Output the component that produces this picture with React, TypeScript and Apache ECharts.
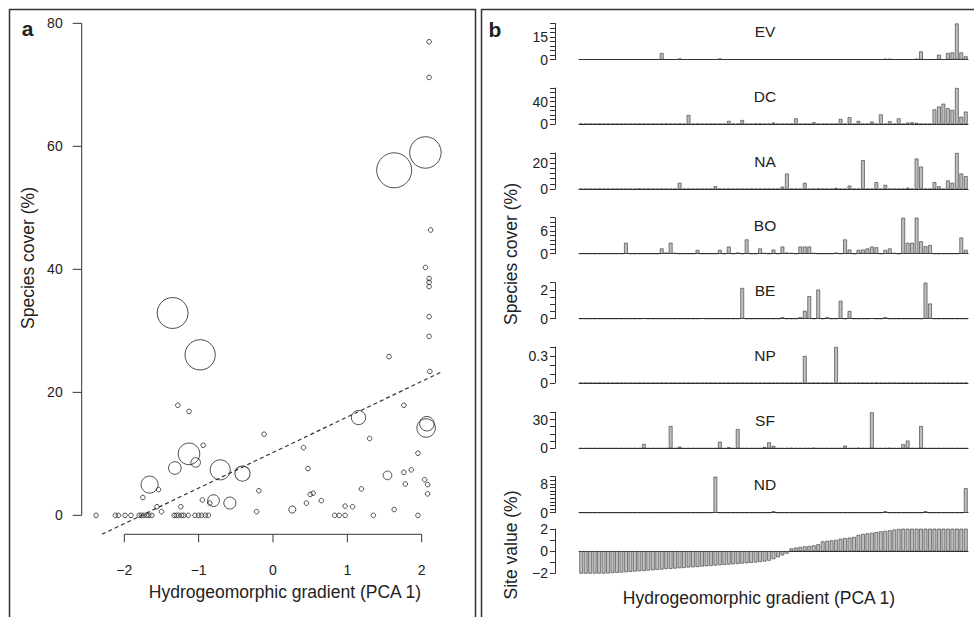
import React, { useEffect, useRef } from "react";
import * as echarts from "echarts";

const FONT = "'Liberation Sans', Arial, Helvetica, sans-serif";
const INK = "#222";
const LINE = "#333";

// ---------- Panel a : species cover vs hydrogeomorphic gradient ----------
const pointX = [
  2.10, 2.10, 1.63, 2.05, 2.12, 2.05, 2.10, 2.10, 2.10, -1.35,
  -0.98, 2.10, 2.10, 1.56, 2.11, -1.28, -1.13, 1.76, 1.15, 2.07,
  2.06, -0.12, 1.30, 0.41, -0.94, -1.13, -1.04, -1.32, -0.71, -0.41,
  0.47, 1.95, 1.76, 1.86, 1.54, 2.04, 2.08, 1.78, 2.08, -1.66,
  -1.54, -0.19, 1.19, 0.54, 0.50, -1.75, -0.95, -0.80, -0.58, 0.65,
  0.45, -1.56, -1.24, 0.97, 1.07, 0.26, 1.63, -0.22, -1.50, -0.85,
  -2.38, -2.12, -2.08, -1.99, -1.91, -1.80, -1.77, -1.74, -1.70, -1.67,
  -1.63, -1.33, -1.30, -1.27, -1.23, -1.20, -1.14, -1.05, -1.00, -0.96,
  -0.91, -0.87, 0.83, 0.89, 0.97, 1.35, 1.95,
];
const pointY = [
  77.0, 71.2, 56.1, 59.0, 46.4, 40.3, 38.5, 37.9, 37.2, 32.9,
  26.1, 32.3, 29.1, 25.8, 23.4, 17.9, 16.9, 17.9, 15.9, 14.9,
  14.2, 13.2, 12.5, 11.0, 11.4, 10.0, 8.6, 7.7, 7.4, 6.8,
  7.6, 10.1, 7.0, 7.4, 6.5, 5.8, 5.0, 5.1, 3.5, 5.0,
  4.2, 4.0, 4.3, 3.6, 3.4, 2.9, 2.5, 2.4, 2.0, 2.4,
  2.0, 1.4, 1.4, 1.5, 1.4, 0.95, 0.95, 0.6, 0.6, 2.0,
  0, 0, 0, 0, 0, 0, 0, 0, 0, 0,
  0, 0, 0, 0, 0, 0, 0, 0, 0, 0,
  0, 0, 0, 0, 0, 0, 0,
];
// relative bubble value (0 = smallest symbol)
const pointSize = [
  0, 0, 9.8, 8.7, 0, 0, 0, 0, 0, 8.5,
  8.3, 0, 0, 0, 0, 0, 0, 0, 3.1, 3.2,
  4.5, 0, 0, 0, 0, 5.5, 1.6, 2.6, 5.0, 3.4,
  0, 0, 0, 0, 1.3, 0, 0, 0, 0, 4.0,
  0, 0, 0, 0, 0, 0, 0, 2.3, 2.4, 0,
  0, 0, 0, 0, 0, 0.8, 0, 0, 0, 0,
  0, 0, 0, 0, 0, 0, 0, 0, 0, 0,
  0, 0, 0, 0, 0, 0, 0, 0, 0, 0,
  0, 0, 0, 0, 0, 0, 0,
];
const trendX = [-2.3, 2.28];
const trendY = [-3.08, 23.4];
const aXTicks = [-2, -1, 0, 1, 2];
const aYTicks = [0, 20, 40, 60, 80];

// ---------- Panel b : species cover per site, sites ordered by PCA 1 ----------
const siteValue = [
  -2.46,
  -2.16, -2.12, -2.10, -2.07, -2.05, -2.01, -1.98, -1.95, -1.93, -1.90,
  -1.87, -1.84, -1.81, -1.79, -1.75, -1.72, -1.69, -1.66, -1.62, -1.60,
  -1.57, -1.54, -1.51, -1.47, -1.45, -1.42, -1.39, -1.36, -1.33, -1.30,
  -1.27, -1.24, -1.21, -1.18, -1.15, -1.12, -1.09, -1.06, -1.02, -0.98,
  -0.93, -0.86, -0.72, -0.55, -0.38, -0.22,
  0.25, 0.32, 0.38, 0.43, 0.47, 0.52, 0.62,
  0.88, 0.93, 0.97, 1.02,
  1.12, 1.17, 1.22, 1.28,
  1.46, 1.55, 1.60, 1.66,
  1.72, 1.78, 1.83, 1.88,
  1.95, 2.0,
  2.03, 2.04, 2.04, 2.05, 2.05, 2.05, 2.06, 2.06, 2.06, 2.07, 2.07, 2.08, 2.08, 2.09, 2.1,
];

// [site index, cover]
const EV = [[18, 4.3], [22, 0.6], [31, 0.6], [68, 0.3], [69, 0.3], [75, 0.5], [76, 5.4], [80, 3.2], [82, 4.3], [83, 4.7], [84, 24], [85, 4.7], [86, 2.1]];
const DC = [[19, 0.5], [22, 0.5], [24, 16], [26, 0.5], [33, 5.4], [36, 7], [39, 0.6], [40, 0.6], [43, 2.4], [48, 10], [52, 3], [58, 9], [60, 12], [62, 5.4], [65, 4.2], [67, 17], [69, 5], [71, 10], [73, 2.4], [74, 3], [75, 2], [79, 26], [80, 31], [81, 36], [82, 28], [83, 25], [84, 64], [85, 13], [86, 22]];
const NA = [[13, 0.3], [15, 0.3], [22, 4.8], [30, 2.1], [45, 1.8], [46, 12], [50, 4.8], [53, 0.3], [57, 0.8], [60, 2.6], [63, 22.4], [66, 5.3], [68, 3.2], [73, 1], [75, 23.7], [76, 17.4], [79, 5.3], [80, 2.1], [82, 6.6], [83, 4.8], [84, 28], [85, 12], [86, 10]];
const BO = [[10, 2.9], [18, 1.4], [19, 0.3], [20, 2.9], [21, 0.2], [26, 1], [31, 1], [33, 1.9], [35, 0.3], [37, 3.8], [40, 1.4], [41, 0.2], [43, 1.1], [45, 1.9], [46, 0.3], [47, 0.2], [49, 1.9], [50, 1.9], [51, 1.9], [52, 0.2], [57, 0.3], [59, 3.8], [60, 1.1], [62, 1], [63, 1.1], [64, 1.4], [65, 1.9], [66, 1.7], [68, 1], [69, 1.4], [70, 0.2], [72, 9.6], [73, 2.9], [74, 2.9], [75, 9.6], [76, 3.3], [77, 2], [78, 2.3], [85, 4.3], [86, 1]];
const BE = [[14, 0.02], [27, 0.02], [36, 2.13], [45, 0.1], [49, 0.1], [50, 0.55], [51, 1.56], [53, 2.02], [55, 0.1], [58, 1.24], [60, 0.53], [65, 0.02], [68, 0.1], [77, 2.5], [78, 1.05]];
const NP = [[50, 0.3], [57, 0.4], [66, 0.005]];
const SF = [[14, 4.5], [20, 23.2], [22, 1.7], [31, 6.9], [33, 1], [35, 20], [41, 1.4], [42, 6.2], [43, 2.4], [47, 0.3], [52, 0.3], [59, 2.8], [62, 0.3], [65, 37.5], [69, 0.2], [72, 4.2], [73, 8], [76, 23.2]];
const ND = [[30, 10], [43, 0.4], [68, 0.4], [77, 0.4], [86, 6.8]];

const speciesNames = ["EV", "DC", "NA", "BO", "BE", "NP", "SF", "ND"];
const speciesData = [EV, DC, NA, BO, BE, NP, SF, ND];
const speciesAxisMax = [24, 64, 28, 9.6, 2.5, 0.4, 37.5, 10];
const speciesTickStep = [3, 8, 4, 1.2, 0.5, 0.1, 7.5, 1];
const speciesLabelTick = [15, 40, 20, 6, 2, 0.3, 30, 8];
const siteAxis = [-2, 2];
const siteLabelTicks = [-2, 0, 2];

const siteIds = siteValue.map((_, i) => String(i + 1));

function expand(pairs: number[][]): number[] {
  const a = siteValue.map(() => 0);
  pairs.forEach(([i, v]) => {
    a[i] = v;
  });
  return a;
}

const fmtNum = (v: number) => (v < 0 ? "\u2212" + String(Math.abs(v)) : String(v));

function buildOption() {
  const mkLine = () => ({ color: LINE, width: 1 });
  const labelBase = { color: INK, fontSize: 14, fontFamily: FONT };
  const grid: any[] = [];
  const xAxis: any[] = [];
  const yAxis: any[] = [];
  const series: any[] = [];

  // panel a plot region (R style: axes drawn only over the tick range)
  const plotL = 81.7, plotT = 22.7, plotW = 360.8, plotH = 511.6, pad = 10;
  const aXMin = -2.573, aXMax = 2.28, aYMin = -3.08, aYMax = 80.1;
  const pxX = plotW / (aXMax - aXMin);
  const pxY = plotH / (aYMax - aYMin);
  const tickLenX = 9 / pxX;
  const tickLenY = 8 / pxY;

  grid.push({ left: plotL - pad, top: plotT, width: plotW + pad, height: plotH + pad });
  xAxis.push({
    gridIndex: 0, type: "value", min: aXMin - pad / pxX, max: aXMax,
    axisLine: { show: false }, axisTick: { show: false },
    axisLabel: { ...labelBase, margin: 19, formatter: fmtNum, customValues: aXTicks },
    splitLine: { show: false },
  });
  yAxis.push({
    gridIndex: 0, type: "value", min: aYMin - pad / pxY, max: aYMax,
    axisLine: { show: false }, axisTick: { show: false },
    axisLabel: { ...labelBase, margin: 9, customValues: aYTicks },
    splitLine: { show: false },
  });

  // axis lines and tick marks as segments [x1, y1, x2, y2] in data units
  const last = (a: number[]) => a[a.length - 1];
  const axisSegments: number[][] = [
    [aXTicks[0], aYMin, last(aXTicks), aYMin],
    [aXMin, aYTicks[0], aXMin, last(aYTicks)],
    ...aXTicks.map((t) => [t, aYMin, t, aYMin - tickLenY]),
    ...aYTicks.map((t) => [aXMin, t, aXMin - tickLenX, t]),
  ];
  series.push({
    type: "custom", xAxisIndex: 0, yAxisIndex: 0, silent: true, clip: false, z: 5,
    data: axisSegments,
    encode: { x: [0, 2], y: [1, 3] },
    renderItem: (_params: any, api: any) => {
      const p1 = api.coord([api.value(0), api.value(1)]);
      const p2 = api.coord([api.value(2), api.value(3)]);
      return {
        type: "line",
        shape: { x1: p1[0], y1: p1[1], x2: p2[0], y2: p2[1] },
        style: { stroke: LINE, lineWidth: 1, fill: null },
      };
    },
  });

  series.push({
    type: "scatter", xAxisIndex: 0, yAxisIndex: 0,
    data: pointX.map((x, i) => [x, pointY[i], pointSize[i]]),
    symbol: "circle",
    symbolSize: (d: number[]) => 4.6 + 3.1 * d[2],
    itemStyle: { color: "rgba(0,0,0,0)", borderColor: INK, borderWidth: 1 },
    silent: true,
  });
  series.push({
    type: "line", xAxisIndex: 0, yAxisIndex: 0,
    data: trendX.map((x, i) => [x, trendY[i]]),
    showSymbol: false, symbol: "none",
    lineStyle: { color: LINE, width: 1.2, type: [4, 3] },
    silent: true,
  });

  // panel b mini bar charts
  const baselines = [59.5, 124, 189, 253.7, 318.7, 383, 448.3, 512.7];
  const h = 36;
  const barStyle = { color: "#bebebe", borderColor: LINE, borderWidth: 0.6 };
  speciesNames.forEach((name, k) => {
    const gi = grid.length;
    grid.push({ left: 579, top: baselines[k] - h, width: 389, height: h });
    xAxis.push({
      gridIndex: gi, type: "category", data: siteIds,
      axisLine: { show: true, lineStyle: mkLine() },
      axisTick: { show: false }, axisLabel: { show: false }, splitLine: { show: false },
    });
    const lab = speciesLabelTick[k];
    yAxis.push({
      gridIndex: gi, type: "value", min: 0, max: speciesAxisMax[k], interval: speciesTickStep[k],
      offset: 24,
      axisLine: { show: true, lineStyle: mkLine() },
      axisTick: { show: true, length: 5, lineStyle: mkLine() },
      axisLabel: {
        ...labelBase, margin: 7, showMaxLabel: true, showMinLabel: true,
        formatter: (v: number) => (Math.abs(v) < 1e-9 ? "0" : Math.abs(v - lab) < 1e-9 ? String(lab) : ""),
      },
      splitLine: { show: false },
    });
    series.push({
      type: "bar", name, xAxisIndex: gi, yAxisIndex: gi,
      data: expand(speciesData[k]),
      barCategoryGap: "17%", itemStyle: barStyle, silent: true,
    });
  });

  // site value chart
  const gs = grid.length;
  grid.push({ left: 579, top: 529, width: 389, height: 44.3 });
  xAxis.push({
    gridIndex: gs, type: "category", data: siteIds,
    axisLine: { show: true, lineStyle: mkLine() },
    axisTick: { show: false }, axisLabel: { show: false }, splitLine: { show: false },
  });
  yAxis.push({
    gridIndex: gs, type: "value", min: siteAxis[0], max: siteAxis[1], interval: 1, offset: 24,
    axisLine: { show: true, lineStyle: mkLine() },
    axisTick: { show: true, length: 5, lineStyle: mkLine() },
    axisLabel: {
      ...labelBase, margin: 7,
      formatter: (v: number) => (siteLabelTicks.some((t) => Math.abs(t - v) < 1e-9) ? fmtNum(v) : ""),
    },
    splitLine: { show: false },
  });
  series.push({
    type: "bar", name: "Site value", xAxisIndex: gs, yAxisIndex: gs,
    data: siteValue, barCategoryGap: "17%", itemStyle: barStyle, silent: true,
  });

  const txt = (text: string, x: number, y: number, size: number, extra: any = {}) => ({
    type: "text", x, y, silent: true, rotation: extra.rotation || 0,
    style: {
      text, fill: INK, fontSize: size, fontFamily: FONT,
      fontWeight: extra.bold ? "bold" : "normal",
      textAlign: "center", textVerticalAlign: "middle", align: "center", verticalAlign: "middle",
    },
  });

  const titleY = baselines.map((b) => b - 28);
  const graphic: any[] = [
    { type: "rect", silent: true, shape: { x: 9.5, y: 9.5, width: 466, height: 640 }, style: { fill: "none", stroke: LINE, lineWidth: 1.5 } },
    { type: "rect", silent: true, shape: { x: 481.5, y: 9.5, width: 520, height: 640 }, style: { fill: "none", stroke: LINE, lineWidth: 1.5 } },
    txt("a", 27.5, 28, 21, { bold: true }),
    txt("b", 495, 29, 21, { bold: true }),
    txt("Hydrogeomorphic gradient (PCA 1)", 285, 592, 17.5),
    txt("Species cover (%)", 28, 258, 17.5, { rotation: Math.PI / 2 }),
    txt("Species cover (%)", 511, 254, 17.5, { rotation: Math.PI / 2 }),
    txt("Site value (%)", 511, 545, 17.5, { rotation: Math.PI / 2 }),
    txt("Hydrogeomorphic gradient (PCA 1)", 759, 598, 17.5),
    ...speciesNames.map((n, k) => txt(n, 765, titleY[k], 15.5)),
  ];

  return {
    animation: false,
    backgroundColor: "#ffffff",
    grid, xAxis, yAxis, series, graphic,
  };
}

export default function App() {
  const ref = useRef<HTMLDivElement>(null);
  useEffect(() => {
    const chart = echarts.init(ref.current as HTMLDivElement, null, { renderer: "svg" });
    chart.setOption(buildOption() as any);
    return () => chart.dispose();
  }, []);
  return (
    <div
      ref={ref}
      style={{ position: "fixed", left: 0, top: 0, width: 974, height: 617, background: "#fff" }}
    />
  );
}
